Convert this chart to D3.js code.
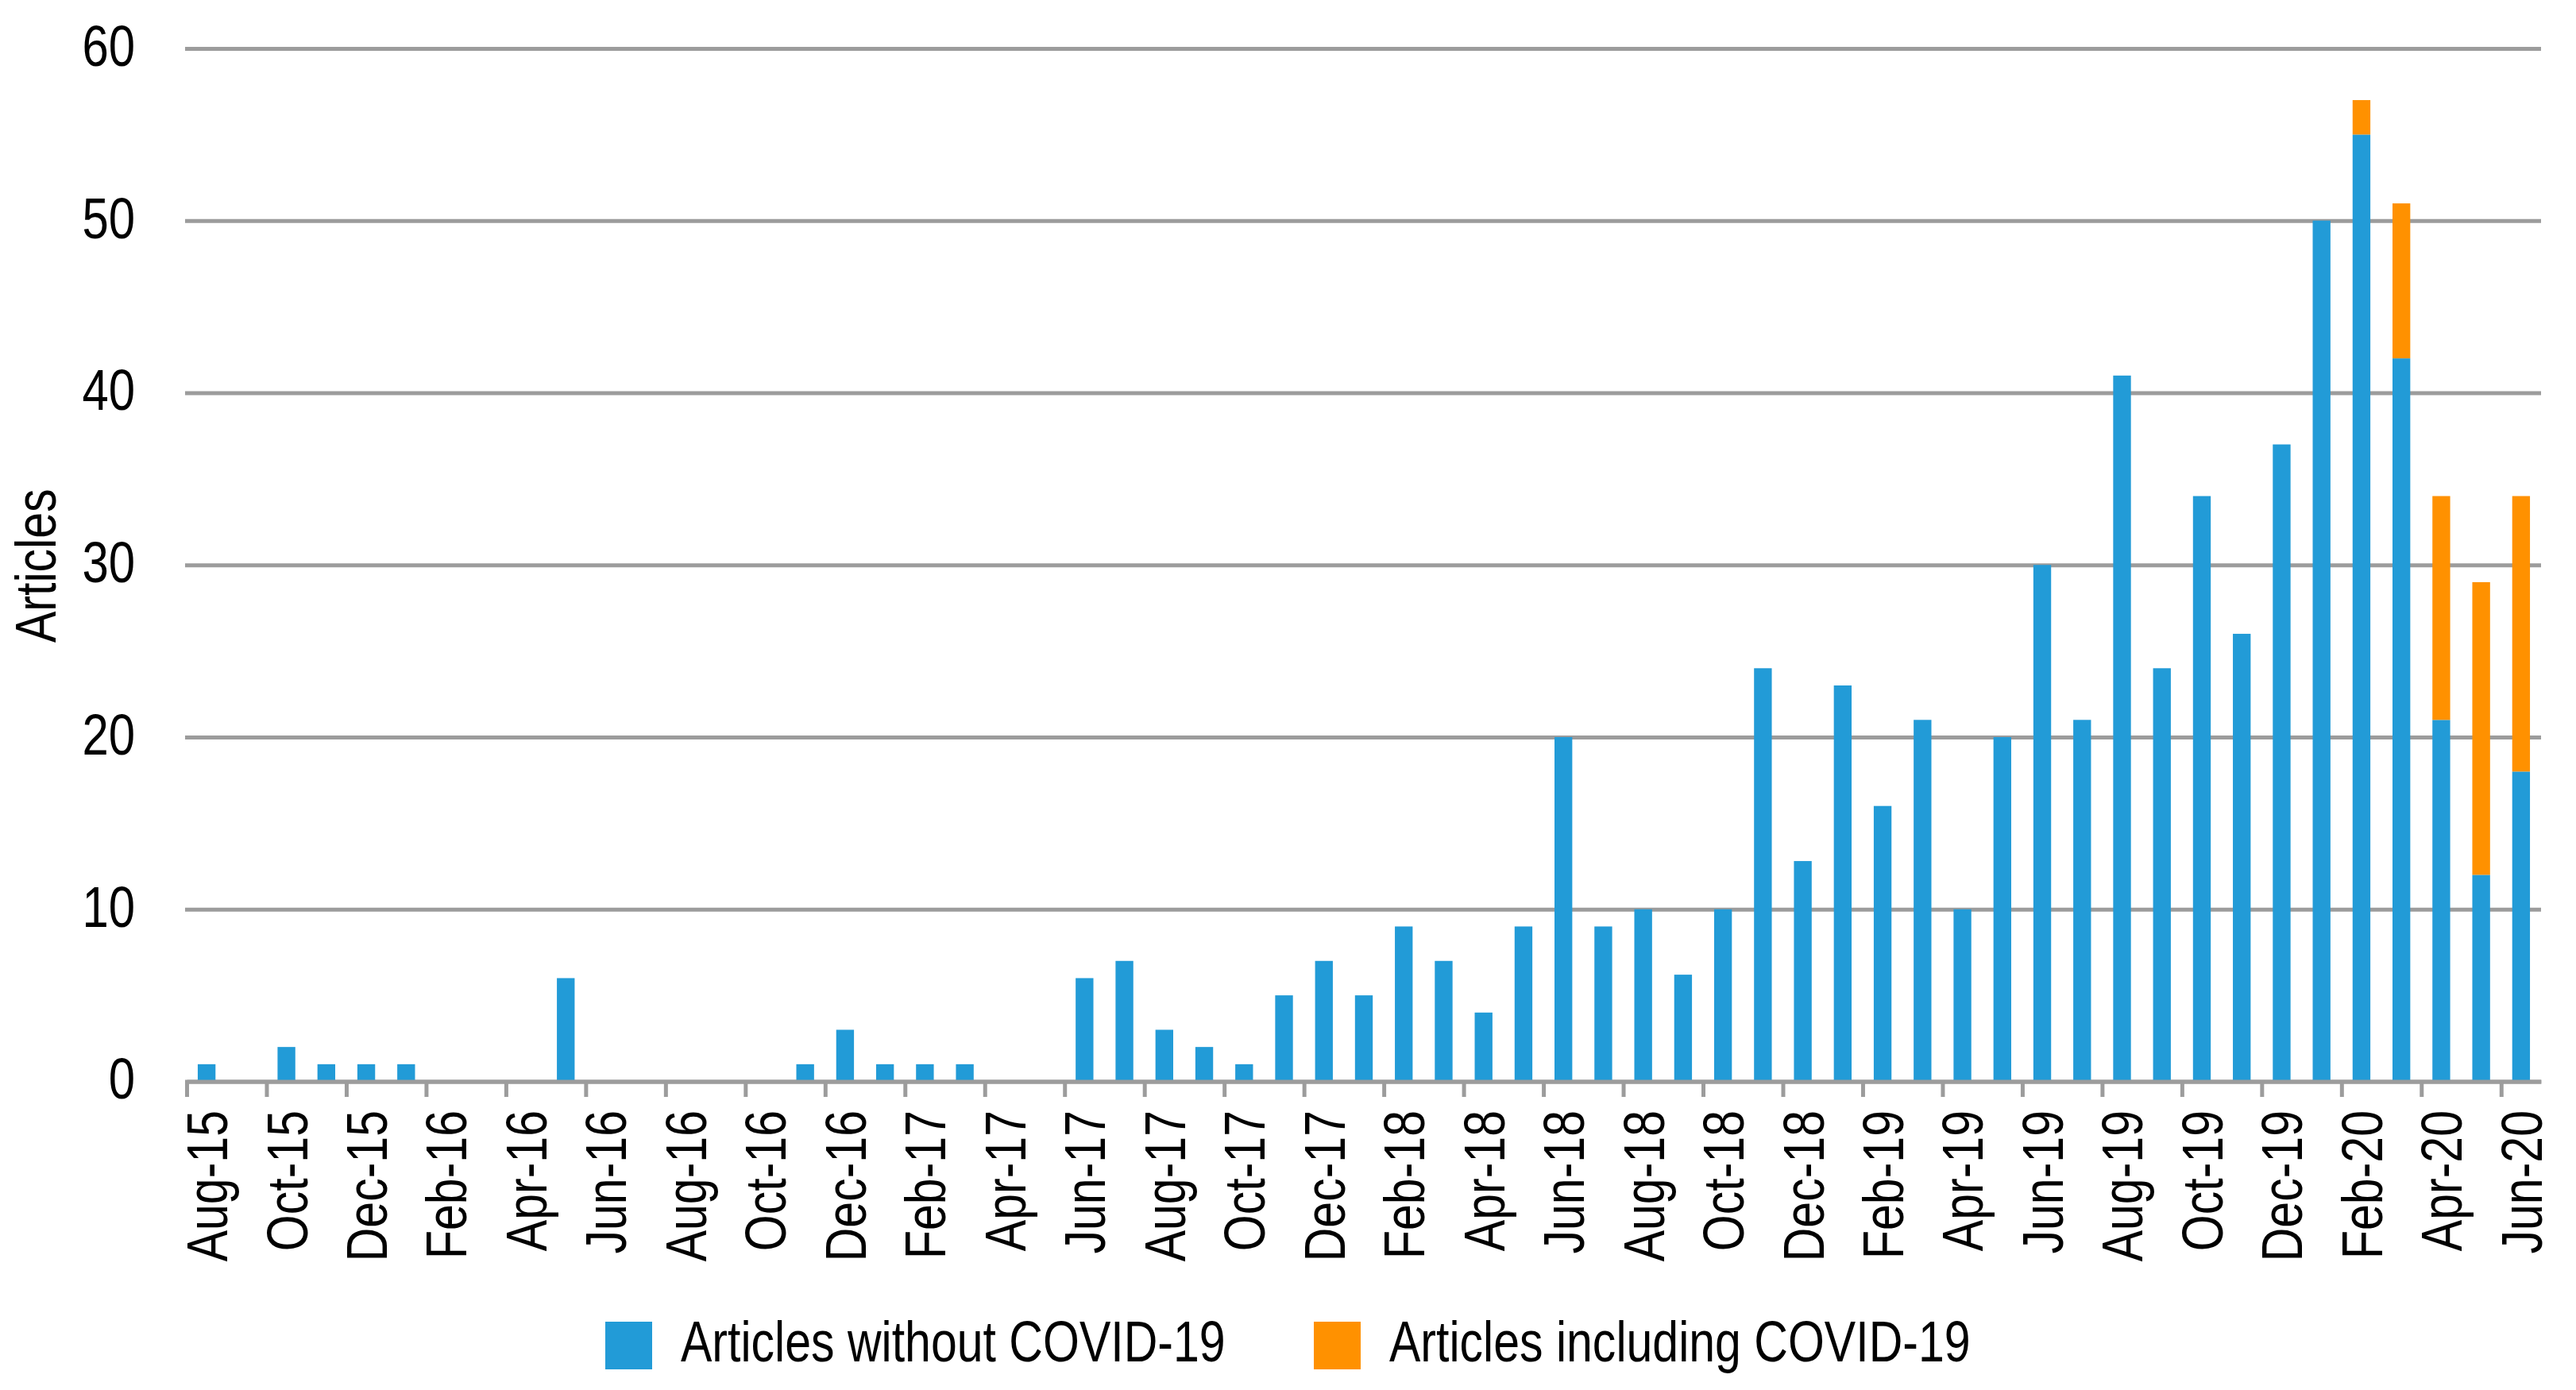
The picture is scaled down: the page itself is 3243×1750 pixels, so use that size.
<!DOCTYPE html>
<html>
<head>
<meta charset="utf-8">
<script src="https://cdn.jsdelivr.net/npm/d3@7"></script>
<style>
  html, body { margin: 0; padding: 0; background: #ffffff; }
  svg { display: block; }
</style>
</head>
<body>
<svg id="chart" width="3243" height="1750"></svg>
<script>
// ---------------- DATA ----------------
const categories = [
  "Aug-15","Sep-15","Oct-15","Nov-15","Dec-15",
  "Jan-16","Feb-16","Mar-16","Apr-16","May-16","Jun-16","Jul-16","Aug-16","Sep-16","Oct-16","Nov-16","Dec-16",
  "Jan-17","Feb-17","Mar-17","Apr-17","May-17","Jun-17","Jul-17","Aug-17","Sep-17","Oct-17","Nov-17","Dec-17",
  "Jan-18","Feb-18","Mar-18","Apr-18","May-18","Jun-18","Jul-18","Aug-18","Sep-18","Oct-18","Nov-18","Dec-18",
  "Jan-19","Feb-19","Mar-19","Apr-19","May-19","Jun-19","Jul-19","Aug-19","Sep-19","Oct-19","Nov-19","Dec-19",
  "Jan-20","Feb-20","Mar-20","Apr-20","May-20","Jun-20"
];
const withoutCovid = [
  1, 0, 2, 1, 1,
  1, 0, 0, 0, 6, 0, 0, 0, 0, 0, 1, 3,
  1, 1, 1, 0, 0, 6, 7, 3, 2, 1, 5, 7,
  5, 9, 7, 4, 9, 20, 9, 10, 6.2, 10, 24, 12.8,
  23, 16, 21, 10, 20, 30, 21, 41, 24, 34, 26, 37,
  50, 55, 42, 21, 12, 18
];
const includingCovid = [
  0, 0, 0, 0, 0,
  0, 0, 0, 0, 0, 0, 0, 0, 0, 0, 0, 0,
  0, 0, 0, 0, 0, 0, 0, 0, 0, 0, 0, 0,
  0, 0, 0, 0, 0, 0, 0, 0, 0, 0, 0, 0,
  0, 0, 0, 0, 0, 0, 0, 0, 0, 0, 0, 0,
  0, 2, 9, 13, 17, 16
];
const seriesKeys = ["without", "including"];
const seriesNames = ["Articles without COVID-19", "Articles including COVID-19"];
const yTicks = [0, 10, 20, 30, 40, 50, 60];
const yTitle = "Articles";
const labelStep = 2;

// ---------------- STYLE / LAYOUT ----------------
const colors = { without: "#229BD7", including: "#FF9100" };
const gridColor = "#9C9C9C";
const lineW = 5;
const X0 = 235, X1 = 3199, Y0 = 1361.5, Y60 = 61;

const svg = d3.select("#chart");

// detect a narrow sans font; otherwise condense Liberation Sans
function measure(fam) {
  const t = svg.append("text").attr("font-family", fam).attr("font-size", 100)
    .text("Articles without COVID-19");
  const w = t.node().getComputedTextLength();
  t.remove();
  return w;
}
const wNarrow = measure("'Liberation Sans Narrow','Liberation Sans'");
const wReg = measure("'Liberation Sans'");
let FAMILY, SX;
if (wNarrow < 0.9 * wReg) { FAMILY = "'Liberation Sans Narrow','Arial Narrow','Liberation Sans'"; SX = 1; }
else { FAMILY = "'Liberation Sans',Arial,sans-serif"; SX = 0.82; }

// ---------------- DATA TABLE ----------------
const table = categories.map((c, i) => ({ cat: c, without: withoutCovid[i], including: includingCovid[i] }));
const stacked = d3.stack().keys(seriesKeys)(table);

// ---------------- SCALES ----------------
const x = d3.scaleBand().domain(categories).range([X0, X1]).paddingInner(0.555).paddingOuter(0.2775);
const xb = d3.scaleLinear().domain([0, categories.length]).range([X0, X1]);
const y = d3.scaleLinear().domain([0, 60]).range([Y0, Y60]);

// ---------------- GRIDLINES ----------------
const grid = svg.append("g").attr("transform", `translate(${X0 - 2},0)`)
  .call(d3.axisLeft(y).tickValues(yTicks).tickSize(-(X1 - X0 + 2)).tickFormat(""));
grid.select(".domain").remove();
grid.selectAll(".tick line").attr("stroke", gridColor).attr("stroke-width", lineW);

// ---------------- BARS ----------------
svg.append("g").selectAll("g").data(stacked).join("g")
  .attr("fill", d => colors[d.key])
  .selectAll("rect").data(d => d.filter(p => p[1] - p[0] > 0)).join("rect")
  .attr("x", d => x(d.data.cat))
  .attr("width", x.bandwidth())
  .attr("y", d => y(d[1]))
  .attr("height", d => y(d[0]) - y(d[1]));

// ---------------- X AXIS (line + ticks between categories) ----------------
const xAxisG = svg.append("g").attr("transform", `translate(0,${Y0})`)
  .call(d3.axisBottom(xb).tickValues(d3.range(0, categories.length, labelStep))
    .tickSize(19.5).tickSizeOuter(0).tickFormat(""));
xAxisG.select(".domain").attr("stroke", gridColor).attr("stroke-width", lineW);
xAxisG.selectAll(".tick line").attr("stroke", gridColor).attr("stroke-width", lineW);

// ---------------- X LABELS ----------------
const xLab = svg.append("g").attr("transform", `translate(0,${Y0})`)
  .call(d3.axisBottom(x).tickValues(categories.filter((c, i) => i % labelStep === 0)).tickSize(0));
xLab.select(".domain").remove();
xLab.selectAll(".tick text")
  .attr("font-family", FAMILY).attr("font-size", 72).attr("fill", "#000")
  .attr("text-anchor", "end")
  .attr("x", 0).attr("y", 0).attr("dy", "0.36em")
  .attr("transform", `translate(0,${1398 - Y0}) rotate(-90) scale(${SX},1)`);

// ---------------- Y LABELS ----------------
const yLab = svg.append("g").attr("transform", `translate(${X0},0)`)
  .call(d3.axisLeft(y).tickValues(yTicks).tickSize(0));
yLab.select(".domain").remove();
yLab.selectAll(".tick text")
  .attr("font-family", FAMILY).attr("font-size", 73).attr("fill", "#000")
  .attr("text-anchor", "end")
  .attr("x", 0).attr("y", 0).attr("dy", "0.36em")
  .attr("transform", `translate(${170 - X0},-5) scale(${SX},1)`);

// ---------------- Y TITLE ----------------
svg.append("text")
  .attr("font-family", FAMILY).attr("font-size", 72).attr("fill", "#000")
  .attr("text-anchor", "middle")
  .attr("transform", `translate(70,${(Y0 + Y60) / 2 + 1}) rotate(-90) scale(${SX},1)`)
  .text(yTitle);

// ---------------- LEGEND ----------------
const legendX = [762, 1654];
const leg = svg.append("g").selectAll("g").data(seriesKeys).join("g")
  .attr("transform", (d, i) => `translate(${legendX[i]},1664)`);
leg.append("rect").attr("width", 59).attr("height", 60).attr("fill", d => colors[d]);
leg.append("text")
  .attr("font-family", FAMILY).attr("font-size", 72).attr("fill", "#000")
  .attr("transform", `translate(95,50) scale(${SX},1)`)
  .text((d, i) => seriesNames[i]);
</script>
</body>
</html>
